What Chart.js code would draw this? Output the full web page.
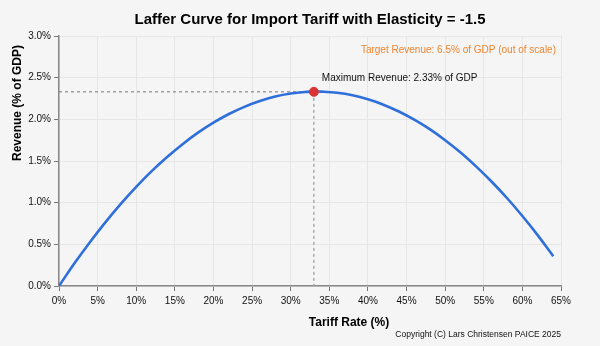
<!DOCTYPE html>
<html><head><meta charset="utf-8">
<script src="https://cdn.jsdelivr.net/npm/chart.js@4.4.1/dist/chart.umd.min.js"></script>
<style>html,body{margin:0;padding:0;background:#f5f5f5;}#wrap{width:600px;height:346px;}</style>
</head><body><div id="wrap"><canvas id="c" width="600" height="346"></canvas></div>
<script>
const tariffRates = [0,2,4,6,8,10,12,14,16,18,20,22,24,26,28,30,32,33,34,36,38,40,42,44,46,48,50,52,54,56,58,60,62,64];
const revenue = [0,0.272,0.526,0.764,0.986,1.19,1.378,1.548,1.702,1.840,1.96,2.064,2.150,2.220,2.274,2.31,2.330,2.333,2.332,2.318,2.288,2.24,2.176,2.094,1.996,1.882,1.75,1.602,1.436,1.254,1.056,0.84,0.608,0.358];
const maxRate = [33];
const maxRevenue = [2.33];
const xTicks = [0,5,10,15,20,25,30,35,40,45,50,55,60,65];
const yTicks = [0,0.5,1,1.5,2,2.5,3];
const titleText = 'Laffer Curve for Import Tariff with Elasticity = -1.5';
const xTitle = 'Tariff Rate (%)';
const yTitle = 'Revenue (% of GDP)';
const maxLabel = 'Maximum Revenue: 2.33% of GDP';
const targetLabel = 'Target Revenue: 6.5% of GDP (out of scale)';
const copyright = 'Copyright (C) Lars Christensen PAICE 2025';

const FONT = '"Liberation Sans", Arial, Helvetica, sans-serif';
const curve = tariffRates.map((x,i)=>({x, y: revenue[i]}));
const peak = {x: maxRate[0], y: maxRevenue[0]};

const bg = {id:'bg', beforeDraw(c){const g=c.ctx; g.save(); g.fillStyle='#f5f5f5'; g.fillRect(0,0,c.width,c.height); g.restore();}};
const texts = {id:'texts', afterDraw(c){
  const g=c.ctx, a=c.chartArea, xs=c.scales.x, ys=c.scales.y;
  g.save();
  g.fillStyle='#000'; g.textAlign='center'; g.textBaseline='middle';
  g.font='bold 15px '+FONT; g.fillText(titleText,(a.left+a.right)/2,20);
  g.font='bold 12px '+FONT; g.fillText(xTitle,349,323);
  g.save(); g.translate(18,103); g.rotate(-Math.PI/2); g.fillText(yTitle,0,0); g.restore();
  g.font='8.5px '+FONT; g.textAlign='right'; g.fillStyle='#111'; g.fillText(copyright,a.right,335);
  g.font='10px '+FONT; g.textAlign='left'; g.fillStyle='#111';
  g.fillText(maxLabel, xs.getPixelForValue(peak.x)+8, ys.getPixelForValue(peak.y)-14);
  g.fillStyle='#f0852d'; g.textAlign='right';
  g.fillText(targetLabel, a.right-5, 50);
  g.restore();
}};

new Chart(document.getElementById('c'), {
  type:'scatter',
  data:{datasets:[
    {data:[{x:0,y:peak.y},peak], showLine:true, borderColor:'#777', borderWidth:1, borderDash:[3,3], pointRadius:0, order:3},
    {data:[peak,{x:peak.x,y:0}], showLine:true, borderColor:'#999', borderWidth:1.2, borderDash:[3,3], pointRadius:0, order:3},
    {data:curve, showLine:true, borderColor:'#2f6fdb', borderWidth:2.6, pointRadius:0, tension:0.4, order:2},
    {data:[peak], pointRadius:4.5, pointBackgroundColor:'#d93333', pointBorderColor:'#d93333', order:1}
  ]},
  options:{
    responsive:false, animation:false, devicePixelRatio:1,
    layout:{padding:{top:36,right:39,left:0,bottom:0}},
    plugins:{legend:{display:false}, tooltip:{enabled:false}, title:{display:false}},
    scales:{
      x:{type:'linear', min:0, max:65,
        afterFit(s){s.height=60;},
        afterBuildTicks(s){s.ticks=xTicks.map(v=>({value:v}));},
        ticks:{callback:v=>v+'%', font:{family:FONT,size:10}, color:'#111', padding:4, maxRotation:0, autoSkip:false},
        grid:{color:'#e6e6e6', tickColor:'#777', tickLength:5, lineWidth:1},
        border:{color:'#888', width:1.5}},
      y:{type:'linear', min:0, max:3,
        afterFit(s){s.width=59;},
        afterBuildTicks(s){s.ticks=yTicks.map(v=>({value:v}));},
        ticks:{callback:v=>v.toFixed(1)+'%', font:{family:FONT,size:10}, color:'#111', padding:3},
        grid:{color:'#e6e6e6', tickColor:'#777', tickLength:5, lineWidth:1},
        border:{color:'#888', width:1.5}}
    }
  },
  plugins:[bg,texts]
});
</script></body></html>
